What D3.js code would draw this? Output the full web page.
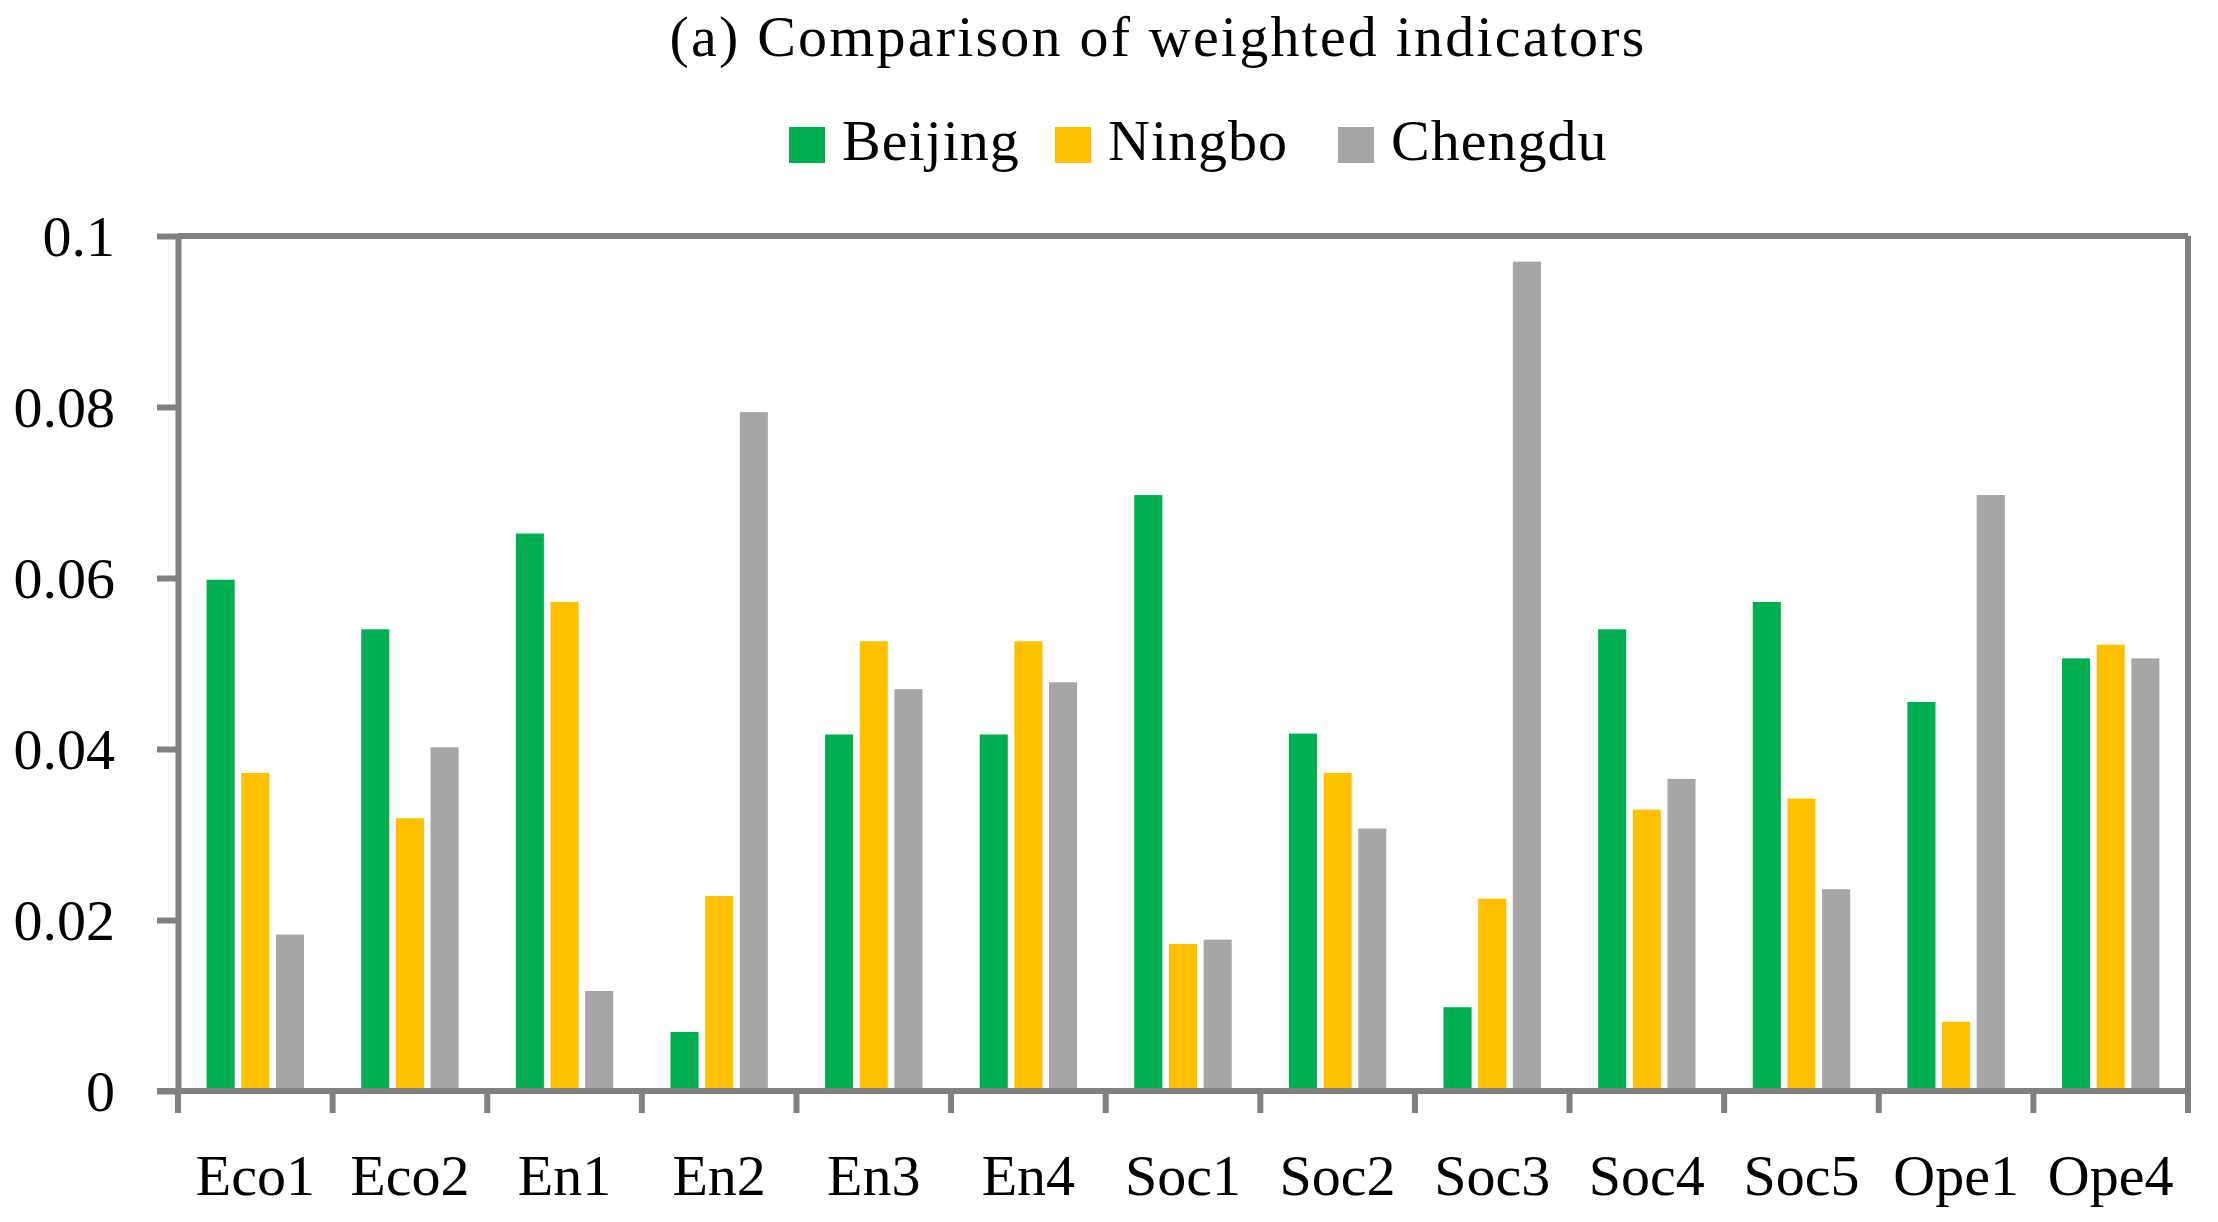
<!DOCTYPE html>
<html><head><meta charset="utf-8">
<script src="https://cdn.jsdelivr.net/npm/d3@7"></script>
<style>body{margin:0;background:#fff}svg{display:block}text{font-family:"Liberation Serif","Times New Roman",serif;fill:#000}</style>
</head><body><svg id="c" width="2218" height="1222"></svg>
<script>
const categories=["Eco1","Eco2","En1","En2","En3","En4","Soc1","Soc2","Soc3","Soc4","Soc5","Ope1","Ope4"];
const seriesNames=["Beijing","Ningbo","Chengdu"];
const beijing=[0.0598,0.0540,0.0652,0.0069,0.0417,0.0417,0.0697,0.0418,0.0098,0.0540,0.0572,0.0455,0.0506];
const ningbo=[0.0372,0.0319,0.0572,0.0228,0.0526,0.0526,0.0172,0.0372,0.0225,0.0329,0.0342,0.0081,0.0522];
const chengdu=[0.0183,0.0402,0.0117,0.0794,0.0470,0.0478,0.0177,0.0307,0.0970,0.0365,0.0236,0.0697,0.0506];
const yTicks=[0,0.02,0.04,0.06,0.08,0.1];
const yTickLabels=["0","0.02","0.04","0.06","0.08","0.1"];
const colors=["#00B050","#FFC000","#A6A6A6"];
const title="(a) Comparison of weighted indicators";

const svg=d3.select("#c");
const L=178,R=2188,T=236,B=1091;
const axisColor="#808080",sw=6;
const x=d3.scaleBand().domain(categories).range([L,R]).paddingInner(0.37).paddingOuter(0.185);
const cat=d3.scaleBand().domain(categories).range([L,R]);
const xi=d3.scaleBand().domain(seriesNames).range([0,x.bandwidth()]).paddingInner(0.19);
const y=d3.scaleLinear().domain([0,0.1]).range([B,T]);
const data=[beijing,ningbo,chengdu];

// bars
seriesNames.forEach((s,si)=>{
  svg.append("g").selectAll("rect").data(categories).join("rect")
    .attr("x",d=>x(d)+xi(s)).attr("width",xi.bandwidth())
    .attr("y",(d,i)=>y(data[si][i])).attr("height",(d,i)=>y(0)-y(data[si][i]))
    .attr("fill",colors[si]);
});

// border top & right
svg.append("line").attr("x1",L).attr("x2",R).attr("y1",T).attr("y2",T).attr("stroke",axisColor).attr("stroke-width",sw);
svg.append("line").attr("x1",R).attr("x2",R).attr("y1",T).attr("y2",B).attr("stroke",axisColor).attr("stroke-width",sw);

// y axis
const ya=svg.append("g").attr("transform",`translate(${L},0)`)
  .call(d3.axisLeft(y).tickValues(yTicks).tickFormat((d,i)=>yTickLabels[i]).tickSize(21).tickPadding(42).tickSizeOuter(0));
ya.select(".domain").attr("stroke",axisColor).attr("stroke-width",sw);
ya.selectAll(".tick line").attr("stroke",axisColor).attr("stroke-width",sw);
ya.selectAll(".tick text").attr("font-size",58).attr("font-family","Liberation Serif").attr("fill","#000").attr("dy","0.34em");

// x axis with ticks at category boundaries
const xa=svg.append("g").attr("transform",`translate(0,${B})`);
xa.append("line").attr("x1",L-21).attr("x2",R+3).attr("stroke",axisColor).attr("stroke-width",sw);
const bounds=categories.map(c=>cat(c)).concat([R]);
xa.selectAll(".xt").data(bounds).join("line").attr("class","xt")
  .attr("x1",d=>d).attr("x2",d=>d).attr("y1",0).attr("y2",22).attr("stroke",axisColor).attr("stroke-width",sw);
xa.selectAll(".xl").data(categories).join("text").attr("class","xl")
  .attr("x",d=>cat(d)+cat.bandwidth()/2).attr("y",104).attr("text-anchor","middle").attr("font-size",58).text(d=>d);

// title
svg.append("text").attr("x",1158).attr("y",56).attr("text-anchor","middle").attr("font-size",58)
  .attr("letter-spacing","2.2px").text(title);

// legend
const legX=[789,1055,1338];
seriesNames.forEach((s,i)=>{
  svg.append("rect").attr("x",legX[i]).attr("y",127).attr("width",36).attr("height",36).attr("fill",colors[i]);
  svg.append("text").attr("x",legX[i]+53).attr("y",160).attr("font-size",58).attr("letter-spacing","1px").text(s);
});
</script></body></html>
